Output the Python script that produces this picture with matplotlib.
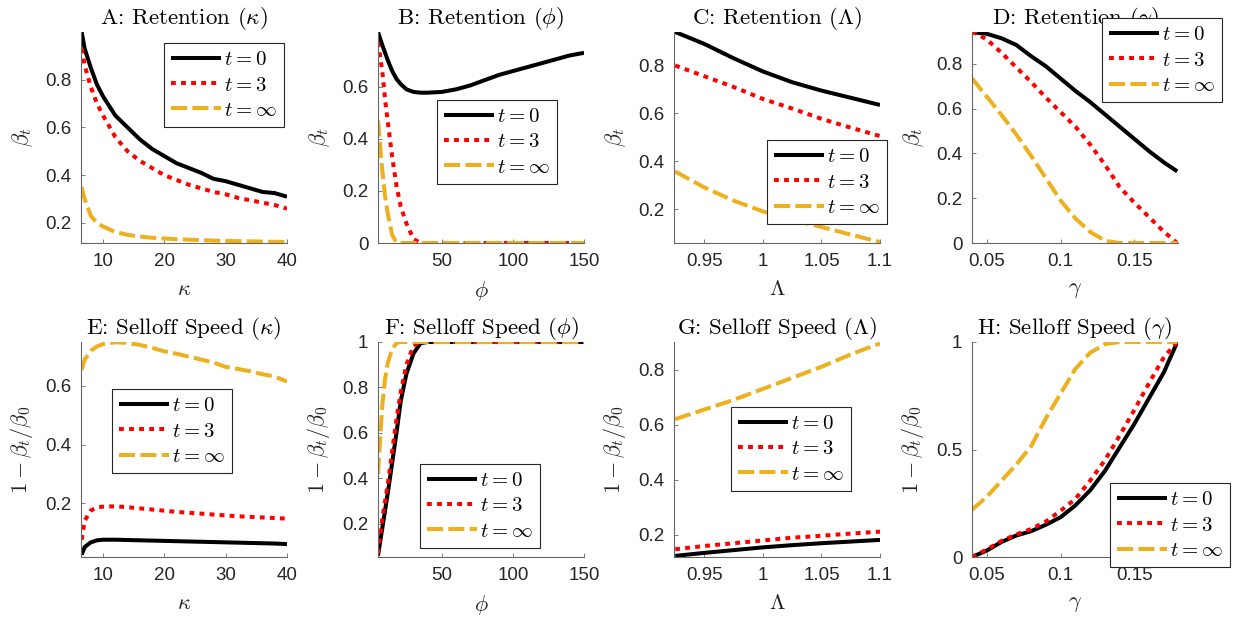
import matplotlib
matplotlib.use("Agg")
import matplotlib.pyplot as plt
from matplotlib.ticker import FuncFormatter

plt.rcParams["mathtext.fontset"] = "cm"
plt.rcParams["font.family"] = ["Liberation Sans", "DejaVu Sans"]

# parameter grids
kappa = [6.5, 7, 8, 9, 10, 12, 14, 16, 18, 20, 22, 24, 26, 28, 30, 32, 34, 36, 38, 40]
phi = [5, 8, 10, 12, 15, 18, 21, 25, 30, 35, 40, 50, 60, 70, 80, 90, 100, 110, 120, 130, 140, 150]
lam = [0.925, 0.95, 0.975, 1.0, 1.025, 1.05, 1.075, 1.1]
gamma = [0.04, 0.05, 0.06, 0.07, 0.08, 0.09, 0.10, 0.11, 0.12, 0.13, 0.14, 0.15, 0.16, 0.17, 0.179]

# A: retention vs kappa
ret_kappa_t0 = [1.00, 0.93, 0.85, 0.78, 0.73, 0.65, 0.60, 0.55, 0.51, 0.48, 0.45, 0.43, 0.41,
                0.385, 0.375, 0.36, 0.345, 0.33, 0.325, 0.31]
ret_kappa_t3 = [0.93, 0.86, 0.77, 0.70, 0.65, 0.56, 0.50, 0.46, 0.43, 0.40, 0.38, 0.36, 0.345,
                0.33, 0.32, 0.305, 0.295, 0.285, 0.275, 0.26]
ret_kappa_inf = [0.35, 0.30, 0.23, 0.20, 0.185, 0.162, 0.150, 0.143, 0.138, 0.135, 0.132, 0.130,
                 0.128, 0.126, 0.125, 0.124, 0.123, 0.122, 0.121, 0.120]

# B: retention vs phi
ret_phi_t0 = [0.81, 0.76, 0.73, 0.70, 0.66, 0.63, 0.61, 0.59, 0.58, 0.577, 0.577, 0.58, 0.59,
              0.605, 0.625, 0.645, 0.66, 0.675, 0.69, 0.705, 0.72, 0.73]
ret_phi_t3 = [0.77, 0.66, 0.55, 0.46, 0.33, 0.22, 0.14, 0.075, 0.015, 0, 0, 0, 0, 0, 0, 0, 0,
              0, 0, 0, 0, 0]
ret_phi_inf = [0.47, 0.28, 0.18, 0.11, 0.03, 0.002, 0, 0, 0, 0, 0, 0, 0, 0, 0, 0, 0, 0, 0, 0, 0, 0]

# C: retention vs Lambda
ret_lam_t0 = [0.94, 0.89, 0.83, 0.775, 0.73, 0.695, 0.665, 0.635]
ret_lam_t3 = [0.80, 0.755, 0.71, 0.66, 0.62, 0.577, 0.54, 0.505]
ret_lam_inf = [0.357, 0.29, 0.235, 0.19, 0.155, 0.125, 0.093, 0.062]

# D: retention vs gamma
ret_gam_t0 = [0.942, 0.935, 0.915, 0.885, 0.835, 0.79, 0.735, 0.68, 0.63, 0.575, 0.52, 0.465,
              0.41, 0.36, 0.32]
ret_gam_t3 = [0.945, 0.91, 0.85, 0.785, 0.72, 0.65, 0.585, 0.52, 0.44, 0.35, 0.25, 0.18, 0.115,
              0.05, 0.0]
ret_gam_inf = [0.736, 0.654, 0.572, 0.485, 0.39, 0.29, 0.19, 0.11, 0.05, 0.01, 0, 0, 0, 0, 0]

# E: selloff speed vs kappa
spd_kappa_t0 = [0.024, 0.05, 0.066, 0.073, 0.075, 0.075, 0.074, 0.073, 0.072, 0.071, 0.070,
                0.069, 0.068, 0.067, 0.066, 0.065, 0.064, 0.063, 0.062, 0.060]
spd_kappa_t3 = [0.075, 0.14, 0.175, 0.185, 0.188, 0.189, 0.186, 0.182, 0.178, 0.174, 0.170,
                0.167, 0.164, 0.161, 0.158, 0.155, 0.153, 0.151, 0.149, 0.147]
spd_kappa_inf = [0.655, 0.69, 0.72, 0.735, 0.743, 0.749, 0.747, 0.74, 0.73, 0.718, 0.71, 0.70,
                 0.69, 0.68, 0.665, 0.658, 0.65, 0.64, 0.632, 0.615]

# F: selloff speed vs phi
spd_phi_t0 = [0.06, 0.18, 0.26, 0.34, 0.47, 0.60, 0.74, 0.86, 0.95, 0.995, 1, 1, 1, 1, 1, 1, 1,
              1, 1, 1, 1, 1]
spd_phi_t3 = [0.07, 0.22, 0.30, 0.38, 0.52, 0.66, 0.78, 0.90, 0.985, 1, 1, 1, 1, 1, 1, 1, 1, 1,
              1, 1, 1, 1]
spd_phi_inf = [0.42, 0.72, 0.84, 0.91, 0.97, 0.995, 1, 1, 1, 1, 1, 1, 1, 1, 1, 1, 1, 1, 1, 1, 1, 1]

# G: selloff speed vs Lambda
spd_lam_t0 = [0.124, 0.135, 0.145, 0.155, 0.163, 0.17, 0.176, 0.182]
spd_lam_t3 = [0.148, 0.16, 0.17, 0.18, 0.19, 0.197, 0.205, 0.212]
spd_lam_inf = [0.62, 0.655, 0.69, 0.73, 0.77, 0.81, 0.855, 0.895]

# H: selloff speed vs gamma
spd_gam_t0 = [0.0, 0.03, 0.07, 0.10, 0.12, 0.15, 0.185, 0.24, 0.31, 0.40, 0.51, 0.62, 0.74,
              0.86, 1.0]
spd_gam_t3 = [0.0, 0.035, 0.075, 0.105, 0.13, 0.165, 0.215, 0.27, 0.355, 0.45, 0.565, 0.685,
              0.81, 0.93, 1.0]
spd_gam_inf = [0.22, 0.28, 0.355, 0.43, 0.515, 0.645, 0.76, 0.875, 0.95, 0.99, 1, 1, 1, 1, 1]

labels = ["$t=0$", "$t=3$", "$t=\\infty$"]
YELLOW = (0.929, 0.694, 0.125)
AX_GRAY = (0.15, 0.15, 0.15)

W, H = 1239, 625
col_left = [81, 378, 674, 972]
ax_w = 206
rows = [(32, 243), (342, 557)]

panels = [
    ("A: Retention ($\\kappa$)", kappa, (ret_kappa_t0, ret_kappa_t3, ret_kappa_inf),
     "$\\kappa$", "$\\beta_t$", (6.4, 40), (0.116, 1.0), [10, 20, 30, 40], [0.2, 0.4, 0.6, 0.8],
     (0.985, 0.948)),
    ("B: Retention ($\\phi$)", phi, (ret_phi_t0, ret_phi_t3, ret_phi_inf),
     "$\\phi$", "$\\beta_t$", (5, 150), (0, 0.81), [50, 100, 150], [0, 0.2, 0.4, 0.6],
     (0.869, 0.678)),
    ("C: Retention ($\\Lambda$)", lam, (ret_lam_t0, ret_lam_t3, ret_lam_inf),
     "$\\Lambda$", "$\\beta_t$", (0.924, 1.1), (0.058, 0.94), [0.95, 1, 1.05, 1.1],
     [0.2, 0.4, 0.6, 0.8], (1.034, 0.488)),
    ("D: Retention ($\\gamma$)", gamma, (ret_gam_t0, ret_gam_t3, ret_gam_inf),
     "$\\gamma$", "$\\beta_t$", (0.04, 0.1795), (0, 0.943), [0.05, 0.1, 0.15],
     [0, 0.2, 0.4, 0.6, 0.8], (1.214, 1.066)),
    ("E: Selloff Speed ($\\kappa$)", kappa, (spd_kappa_t0, spd_kappa_t3, spd_kappa_inf),
     "$\\kappa$", "$1-\\beta_t/\\beta_0$", (6.4, 40), (0.016, 0.75), [10, 20, 30, 40],
     [0.2, 0.4, 0.6], (0.733, 0.781)),
    ("F: Selloff Speed ($\\phi$)", phi, (spd_phi_t0, spd_phi_t3, spd_phi_inf),
     "$\\phi$", "$1-\\beta_t/\\beta_0$", (5, 150), (0.054, 1.0), [50, 100, 150],
     [0.2, 0.4, 0.6, 0.8, 1], (0.786, 0.433)),
    ("G: Selloff Speed ($\\Lambda$)", lam, (spd_lam_t0, spd_lam_t3, spd_lam_inf),
     "$\\Lambda$", "$1-\\beta_t/\\beta_0$", (0.924, 1.1), (0.12, 0.9), [0.95, 1, 1.05, 1.1],
     [0.2, 0.4, 0.6, 0.8], (0.859, 0.698)),
    ("H: Selloff Speed ($\\gamma$)", gamma, (spd_gam_t0, spd_gam_t3, spd_gam_inf),
     "$\\gamma$", "$1-\\beta_t/\\beta_0$", (0.04, 0.1795), (0, 1.0), [0.05, 0.1, 0.15],
     [0, 0.5, 1], (1.252, 0.344)),
]

fmt = FuncFormatter(lambda v, p: "%g" % round(v, 4))

fig = plt.figure(figsize=(W / 100, H / 100), dpi=100)
for i, (title, x, ys, xl, yl, xlim, ylim, xt, yt, leg) in enumerate(panels):
    r, c = divmod(i, 4)
    top, bot = rows[r]
    ax = fig.add_axes([col_left[c] / W, 1 - bot / H, ax_w / W, (bot - top) / H])
    ax.plot(x, ys[0], color="black", lw=2.9, solid_capstyle="butt", label=labels[0])
    ax.plot(x, ys[1], color="red", lw=2.9, dashes=(1.2, 1.3), dash_capstyle="butt",
            label=labels[1])
    ax.plot(x, ys[2], color=YELLOW, lw=2.9, dashes=(4, 1.3), dash_capstyle="butt",
            label=labels[2])
    ax.set_xlim(*xlim)
    ax.set_ylim(*ylim)
    ax.set_xticks(xt)
    ax.set_yticks(yt)
    ax.xaxis.set_major_formatter(fmt)
    ax.yaxis.set_major_formatter(fmt)
    for s in ("top", "right"):
        ax.spines[s].set_visible(False)
    for s in ("left", "bottom"):
        ax.spines[s].set_color((0.4, 0.4, 0.4))
        ax.spines[s].set_linewidth(0.8)
    ax.tick_params(direction="in", length=3, width=0.6, color=(0.4, 0.4, 0.4),
                   labelsize=13.5, labelcolor=AX_GRAY, pad=7)
    ax.set_title(title, fontsize=16.5, family="cmr10", pad=6)
    ax.set_xlabel(xl, fontsize=16, color=AX_GRAY, labelpad=7)
    ax.set_ylabel(yl, fontsize=16, color=AX_GRAY, labelpad=7)
    lg = ax.legend(loc="upper right", bbox_to_anchor=leg, borderaxespad=0, fontsize=15,
                   fancybox=False, framealpha=1, edgecolor=(0.15, 0.15, 0.15),
                   handlelength=2.4, handletextpad=0.15, borderpad=0.35, labelspacing=0.3)
    lg.get_frame().set_linewidth(0.8)
    lg.set_zorder(10)

fig.savefig("out.png", dpi=100)
